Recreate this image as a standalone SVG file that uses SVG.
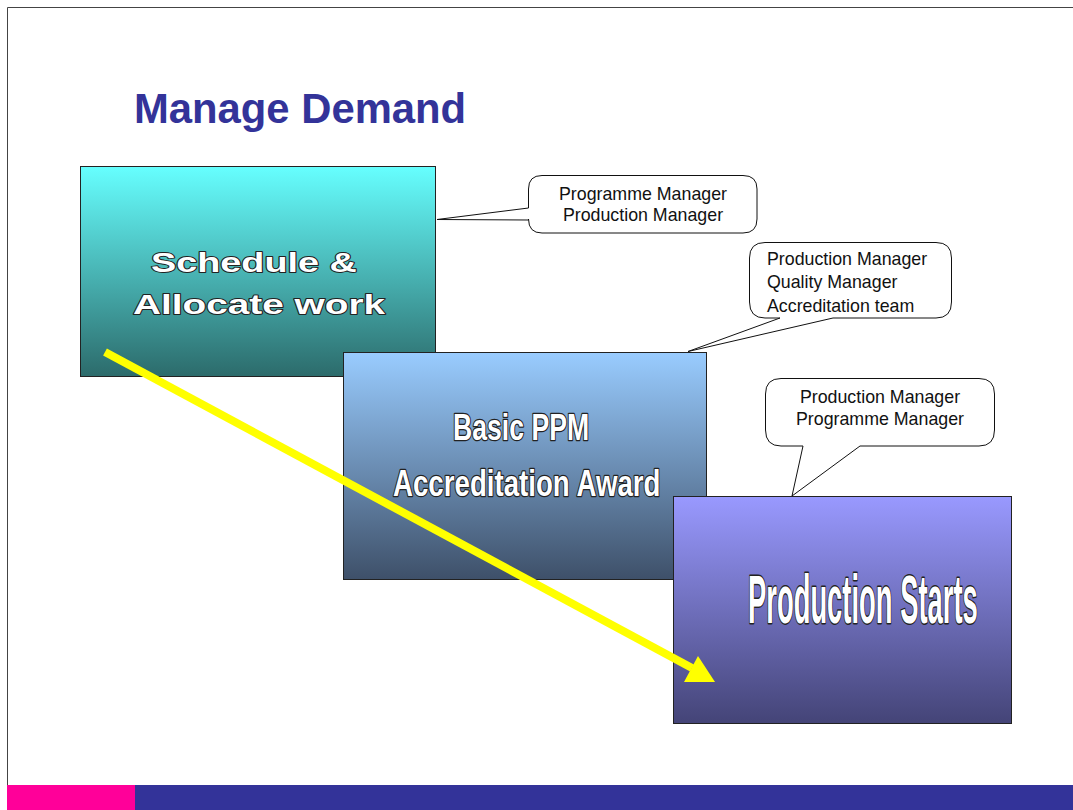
<svg xmlns="http://www.w3.org/2000/svg" width="1073" height="810" viewBox="0 0 1073 810">
  <defs>
    <linearGradient id="gTeal" x1="0" y1="0" x2="0" y2="1">
      <stop offset="0" stop-color="#66FFFF"/>
      <stop offset="1" stop-color="#2C6B6B"/>
    </linearGradient>
    <linearGradient id="gSky" x1="0" y1="0" x2="0" y2="1">
      <stop offset="0" stop-color="#99CCFF"/>
      <stop offset="1" stop-color="#3E5069"/>
    </linearGradient>
    <linearGradient id="gViolet" x1="0" y1="0" x2="0" y2="1">
      <stop offset="0" stop-color="#9999FF"/>
      <stop offset="1" stop-color="#444477"/>
    </linearGradient>
    <style>
      .box { stroke: #222222; stroke-width: 1; }
      .callout { fill: #FFFFFF; stroke: #111111; stroke-width: 1; }
      .note { font-family: "Liberation Sans", Arial, sans-serif; font-size: 17.8px; fill: #111111; }
      .big { font-family: "Liberation Sans", Arial, sans-serif; font-weight: bold; fill: #FFFFFF;
             stroke: #222222; stroke-width: 2.2; paint-order: stroke; stroke-linejoin: round;
             vector-effect: non-scaling-stroke; }
      .title { font-family: "Liberation Sans", Arial, sans-serif; font-weight: bold; font-size: 41.8px; fill: #333399; }
    </style>
  </defs>

  <!-- page -->
  <rect x="0" y="0" width="1073" height="810" fill="#FFFFFF"/>
  <path d="M7.5,810 V7.5 H1073" fill="none" stroke="#444444" stroke-width="1"/>
  <rect x="7" y="785" width="128" height="25" fill="#FF0099"/>
  <rect x="135" y="785" width="938" height="25" fill="#333399"/>

  <text class="title" x="134" y="123">Manage Demand</text>

  <!-- step 1: extended lettering -->
  <g id="schedule">
    <rect class="box" x="80.5" y="166.5" width="355" height="210" fill="url(#gTeal)"/>
    <text class="big" transform="translate(151,272) scale(1.35,1)" font-size="28">Schedule &amp;</text>
    <text class="big" transform="translate(133,314) scale(1.385,1)" font-size="28">Allocate work</text>
  </g>

  <g id="note-schedule">
    <path class="callout" d="M542,175.5 H743 Q757,175.5 757,189 V219 Q757,233 743,233 H542 Q528.5,233 528.5,219 V220 L437,219.5 L528.5,208 V189 Q528.5,175.5 542,175.5 Z"/>
    <text class="note" x="643" y="200" text-anchor="middle">Programme Manager</text>
    <text class="note" x="643" y="221" text-anchor="middle">Production Manager</text>
  </g>

  <!-- step 2: condensed lettering -->
  <g id="accreditation">
    <rect class="box" x="343.5" y="352.5" width="363" height="227" fill="url(#gSky)"/>
    <text class="big" transform="translate(453,440) scale(0.72,1)" font-size="37">Basic PPM</text>
    <text class="big" transform="translate(393,496) scale(0.748,1)" font-size="37">Accreditation Award</text>
  </g>

  <g id="note-accreditation">
    <path class="callout" d="M765,242.5 H936 Q951.5,242.5 951.5,258 V302 Q951.5,318 936,318 H833 L688,351.5 L780,318 H765 Q749.5,318 749.5,302 V258 Q749.5,242.5 765,242.5 Z"/>
    <text class="note" x="767" y="265">Production Manager</text>
    <text class="note" x="767" y="288">Quality Manager</text>
    <text class="note" x="767" y="312">Accreditation team</text>
  </g>

  <!-- step 3 -->
  <g id="production">
    <rect class="box" x="673.5" y="496.5" width="338" height="227" fill="url(#gViolet)"/>
    <text class="big" transform="translate(748,623) scale(0.397,1)" font-size="69">Production Starts</text>
  </g>

  <g id="note-production">
    <path class="callout" d="M781,378.5 H979 Q994.5,378.5 994.5,394 V430 Q994.5,446 979,446 H860 L792,496 L803,446 H781 Q765.5,446 765.5,430 V394 Q765.5,378.5 781,378.5 Z"/>
    <text class="note" x="880" y="403" text-anchor="middle">Production Manager</text>
    <text class="note" x="880" y="425" text-anchor="middle">Programme Manager</text>
  </g>

  <!-- flow arrow -->
  <g id="connectors">
    <line x1="105" y1="352" x2="692" y2="668" stroke="#FFFF00" stroke-width="8"/>
    <polygon points="715,682 684,682 698,656" fill="#FFFF00"/>
  </g>
</svg>
